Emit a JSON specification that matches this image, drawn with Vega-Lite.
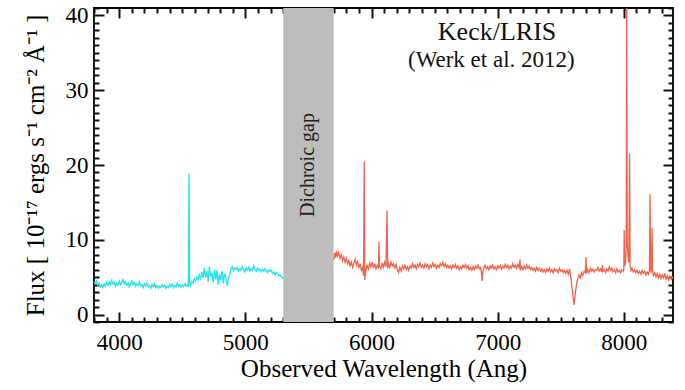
{
  "$schema": "https://vega.github.io/schema/vega-lite/v6.json",
  "width": 579,
  "height": 314,
  "autosize": {"type": "none"},
  "padding": {"left": 94, "top": 8, "right": 12, "bottom": 68},
  "background": "white",
  "config": {
    "view": {"stroke": "black", "strokeWidth": 1.8},
    "font": "Liberation Serif"
  },
  "datasets": {
    "gap": [{"a": 5300, "b": 5700, "lbl": "Dichroic gap", "ty": 20}],
    "notes": [
      {"x": 6995, "y": 37.8, "t": "Keck/LRIS", "k": "main"},
      {"x": 6950, "y": 34.0, "t": "(Werk et al. 2012)", "k": "ref"}
    ],
    "blue": [
      {"w":3800,"f":4.4},{"w":3810,"f":4.1},{"w":3820,"f":4.5},{"w":3830,"f":3.9},{"w":3840,"f":4.2},{"w":3850,"f":3.7},{"w":3860,"f":4.0},{"w":3870,"f":3.6},{"w":3880,"f":4.1},{"w":3890,"f":3.8},
      {"w":3900,"f":4.3},{"w":3910,"f":3.9},{"w":3920,"f":4.4},{"w":3930,"f":4.0},{"w":3940,"f":4.6},{"w":3950,"f":4.1},{"w":3960,"f":4.3},{"w":3970,"f":3.8},{"w":3980,"f":4.2},{"w":3990,"f":3.9},
      {"w":4000,"f":4.5},{"w":4010,"f":4.0},{"w":4020,"f":4.3},{"w":4030,"f":4.7},{"w":4040,"f":4.1},{"w":4050,"f":4.4},{"w":4060,"f":3.9},{"w":4070,"f":4.2},{"w":4080,"f":3.7},{"w":4090,"f":4.1},
      {"w":4100,"f":4.5},{"w":4110,"f":4.0},{"w":4120,"f":4.3},{"w":4130,"f":3.8},{"w":4140,"f":4.1},{"w":4150,"f":3.9},{"w":4160,"f":4.4},{"w":4170,"f":3.8},{"w":4180,"f":4.0},{"w":4190,"f":3.6},
      {"w":4200,"f":4.1},{"w":4210,"f":3.8},{"w":4220,"f":4.2},{"w":4230,"f":3.7},{"w":4240,"f":3.9},{"w":4250,"f":3.5},{"w":4260,"f":4.0},{"w":4270,"f":3.7},{"w":4280,"f":4.1},{"w":4290,"f":3.6},
      {"w":4300,"f":3.9},{"w":4310,"f":3.5},{"w":4320,"f":3.8},{"w":4330,"f":3.6},{"w":4340,"f":4.0},{"w":4350,"f":3.7},{"w":4360,"f":3.9},{"w":4370,"f":3.5},{"w":4380,"f":3.8},{"w":4390,"f":3.6},
      {"w":4400,"f":4.0},{"w":4410,"f":3.7},{"w":4420,"f":4.1},{"w":4430,"f":3.6},{"w":4440,"f":3.9},{"w":4450,"f":3.7},{"w":4460,"f":4.2},{"w":4470,"f":3.8},{"w":4480,"f":4.0},{"w":4490,"f":3.6},
      {"w":4500,"f":3.9},{"w":4510,"f":3.7},{"w":4520,"f":4.1},{"w":4530,"f":3.8},{"w":4540,"f":4.0},{"w":4548,"f":3.7},{"w":4553,"f":18.9},{"w":4558,"f":4.2},{"w":4565,"f":3.9},{"w":4575,"f":4.4},
      {"w":4585,"f":4.2},{"w":4595,"f":4.8},{"w":4605,"f":4.5},{"w":4615,"f":5.0},{"w":4625,"f":4.6},{"w":4635,"f":5.3},{"w":4645,"f":4.8},{"w":4655,"f":5.7},{"w":4665,"f":4.9},{"w":4675,"f":6.2},
      {"w":4685,"f":5.0},{"w":4695,"f":5.8},{"w":4705,"f":4.4},{"w":4715,"f":6.4},{"w":4725,"f":5.1},{"w":4735,"f":5.6},{"w":4745,"f":4.3},{"w":4755,"f":6.0},{"w":4765,"f":4.7},{"w":4775,"f":5.9},
      {"w":4785,"f":4.0},{"w":4795,"f":5.4},{"w":4805,"f":4.6},{"w":4815,"f":5.8},{"w":4825,"f":4.2},{"w":4835,"f":5.5},{"w":4845,"f":4.9},{"w":4855,"f":3.9},{"w":4865,"f":4.8},{"w":4875,"f":5.2},
      {"w":4885,"f":6.1},{"w":4895,"f":6.4},{"w":4905,"f":5.9},{"w":4915,"f":6.2},{"w":4925,"f":6.0},{"w":4935,"f":6.3},{"w":4945,"f":5.8},{"w":4955,"f":6.1},{"w":4965,"f":5.9},{"w":4975,"f":6.4},
      {"w":4985,"f":6.0},{"w":4995,"f":5.7},{"w":5005,"f":6.2},{"w":5015,"f":5.9},{"w":5025,"f":6.3},{"w":5035,"f":5.8},{"w":5045,"f":6.1},{"w":5055,"f":5.9},{"w":5065,"f":6.5},{"w":5075,"f":6.0},
      {"w":5085,"f":5.8},{"w":5095,"f":6.2},{"w":5105,"f":5.9},{"w":5115,"f":6.1},{"w":5125,"f":5.7},{"w":5135,"f":6.0},{"w":5145,"f":5.8},{"w":5155,"f":6.1},{"w":5165,"f":5.9},{"w":5175,"f":5.6},
      {"w":5185,"f":6.0},{"w":5195,"f":5.8},{"w":5205,"f":5.9},{"w":5215,"f":5.5},{"w":5225,"f":5.7},{"w":5235,"f":5.3},{"w":5245,"f":5.6},{"w":5255,"f":5.4},{"w":5265,"f":5.2},{"w":5275,"f":5.3},
      {"w":5285,"f":5.0},{"w":5295,"f":4.9},{"w":5300,"f":5.0}
    ],
    "red": [
      {"w":5700,"f":7.3},{"w":5708,"f":8.2},{"w":5715,"f":7.6},{"w":5722,"f":8.5},{"w":5730,"f":7.8},{"w":5740,"f":8.3},{"w":5750,"f":7.5},{"w":5760,"f":8.0},{"w":5770,"f":7.2},{"w":5780,"f":7.7},
      {"w":5790,"f":7.0},{"w":5800,"f":7.5},{"w":5810,"f":6.8},{"w":5820,"f":7.2},{"w":5830,"f":6.5},{"w":5840,"f":7.0},{"w":5850,"f":6.3},{"w":5860,"f":6.9},{"w":5870,"f":7.4},{"w":5880,"f":6.6},
      {"w":5890,"f":7.1},{"w":5900,"f":6.2},{"w":5910,"f":6.8},{"w":5920,"f":5.9},{"w":5930,"f":6.3},{"w":5937,"f":5.2},{"w":5942,"f":20.5},{"w":5947,"f":4.6},{"w":5955,"f":5.8},{"w":5965,"f":6.6},
      {"w":5975,"f":6.1},{"w":5985,"f":6.9},{"w":5995,"f":6.4},{"w":6005,"f":7.0},{"w":6015,"f":6.2},{"w":6025,"f":6.8},{"w":6035,"f":6.0},{"w":6045,"f":6.6},{"w":6055,"f":6.3},{"w":6059,"f":9.7},
      {"w":6063,"f":6.5},{"w":6075,"f":6.1},{"w":6085,"f":6.9},{"w":6095,"f":6.3},{"w":6105,"f":7.0},{"w":6115,"f":6.4},{"w":6123,"f":13.9},{"w":6128,"f":6.2},{"w":6135,"f":6.8},{"w":6145,"f":6.3},
      {"w":6155,"f":7.0},{"w":6165,"f":6.5},{"w":6175,"f":6.8},{"w":6185,"f":6.2},{"w":6195,"f":6.7},{"w":6205,"f":6.0},{"w":6215,"f":5.6},{"w":6225,"f":6.3},{"w":6235,"f":5.8},{"w":6245,"f":6.5},
      {"w":6255,"f":6.1},{"w":6265,"f":6.6},{"w":6275,"f":6.0},{"w":6285,"f":6.4},{"w":6295,"f":5.9},{"w":6305,"f":6.5},{"w":6315,"f":6.2},{"w":6325,"f":6.8},{"w":6335,"f":6.3},{"w":6345,"f":6.6},
      {"w":6355,"f":6.1},{"w":6365,"f":6.7},{"w":6375,"f":6.4},{"w":6385,"f":6.9},{"w":6395,"f":6.3},{"w":6405,"f":6.6},{"w":6415,"f":6.2},{"w":6425,"f":6.8},{"w":6435,"f":6.4},{"w":6445,"f":6.7},
      {"w":6455,"f":6.1},{"w":6465,"f":6.6},{"w":6475,"f":6.3},{"w":6485,"f":6.9},{"w":6495,"f":6.4},{"w":6505,"f":6.7},{"w":6515,"f":6.2},{"w":6525,"f":6.6},{"w":6535,"f":6.3},{"w":6545,"f":6.8},
      {"w":6555,"f":6.5},{"w":6565,"f":7.0},{"w":6575,"f":6.4},{"w":6585,"f":6.8},{"w":6595,"f":6.3},{"w":6605,"f":6.6},{"w":6615,"f":6.2},{"w":6625,"f":6.5},{"w":6635,"f":6.1},{"w":6645,"f":6.6},
      {"w":6655,"f":6.3},{"w":6665,"f":6.7},{"w":6675,"f":6.2},{"w":6685,"f":6.5},{"w":6695,"f":6.0},{"w":6705,"f":6.4},{"w":6715,"f":6.1},{"w":6725,"f":6.6},{"w":6735,"f":6.3},{"w":6745,"f":6.7},
      {"w":6755,"f":6.2},{"w":6765,"f":6.5},{"w":6775,"f":6.0},{"w":6785,"f":6.3},{"w":6795,"f":5.9},{"w":6805,"f":6.4},{"w":6815,"f":6.0},{"w":6825,"f":6.5},{"w":6835,"f":6.2},{"w":6845,"f":6.6},
      {"w":6855,"f":6.1},{"w":6865,"f":6.3},{"w":6872,"f":5.5},{"w":6877,"f":4.5},{"w":6882,"f":5.7},{"w":6890,"f":6.2},{"w":6900,"f":6.6},{"w":6910,"f":6.1},{"w":6920,"f":6.4},{"w":6930,"f":6.0},
      {"w":6940,"f":6.5},{"w":6950,"f":6.2},{"w":6960,"f":6.6},{"w":6970,"f":6.1},{"w":6980,"f":6.4},{"w":6990,"f":6.0},{"w":7000,"f":6.5},{"w":7010,"f":6.2},{"w":7020,"f":6.6},{"w":7030,"f":6.1},
      {"w":7040,"f":6.5},{"w":7050,"f":6.2},{"w":7060,"f":6.7},{"w":7070,"f":6.3},{"w":7080,"f":6.6},{"w":7090,"f":6.1},{"w":7100,"f":6.5},{"w":7110,"f":6.2},{"w":7120,"f":6.8},{"w":7130,"f":6.3},
      {"w":7140,"f":6.6},{"w":7150,"f":6.2},{"w":7160,"f":6.7},{"w":7170,"f":6.3},{"w":7177,"f":7.4},{"w":7182,"f":5.9},{"w":7190,"f":6.4},{"w":7200,"f":6.0},{"w":7210,"f":6.5},{"w":7220,"f":6.1},
      {"w":7230,"f":6.6},{"w":7240,"f":6.2},{"w":7250,"f":6.5},{"w":7260,"f":6.0},{"w":7270,"f":6.3},{"w":7280,"f":5.9},{"w":7290,"f":6.2},{"w":7300,"f":5.8},{"w":7310,"f":6.3},{"w":7320,"f":5.9},
      {"w":7330,"f":6.2},{"w":7340,"f":5.8},{"w":7350,"f":6.1},{"w":7360,"f":5.7},{"w":7370,"f":6.0},{"w":7380,"f":5.6},{"w":7390,"f":6.1},{"w":7400,"f":5.8},{"w":7410,"f":6.2},{"w":7420,"f":5.7},
      {"w":7430,"f":6.0},{"w":7440,"f":5.6},{"w":7450,"f":6.1},{"w":7460,"f":5.8},{"w":7470,"f":6.0},{"w":7480,"f":5.6},{"w":7490,"f":6.2},{"w":7500,"f":5.8},{"w":7510,"f":6.0},{"w":7520,"f":5.6},
      {"w":7530,"f":5.9},{"w":7540,"f":5.5},{"w":7550,"f":5.9},{"w":7560,"f":5.4},{"w":7570,"f":6.1},{"w":7580,"f":5.0},{"w":7590,"f":3.5},{"w":7600,"f":2.2},{"w":7605,"f":1.3},{"w":7610,"f":2.0},
      {"w":7618,"f":3.2},{"w":7625,"f":4.0},{"w":7635,"f":4.8},{"w":7645,"f":5.3},{"w":7655,"f":4.9},{"w":7665,"f":5.6},{"w":7675,"f":5.2},{"w":7685,"f":5.8},{"w":7695,"f":5.6},{"w":7700,"f":7.7},
      {"w":7705,"f":5.5},{"w":7715,"f":6.0},{"w":7725,"f":5.6},{"w":7735,"f":6.2},{"w":7745,"f":5.8},{"w":7755,"f":6.1},{"w":7765,"f":5.7},{"w":7775,"f":6.0},{"w":7785,"f":5.9},{"w":7795,"f":6.3},
      {"w":7805,"f":5.8},{"w":7815,"f":6.1},{"w":7825,"f":5.7},{"w":7830,"f":6.6},{"w":7835,"f":5.8},{"w":7845,"f":6.0},{"w":7855,"f":5.6},{"w":7865,"f":6.1},{"w":7875,"f":5.8},{"w":7885,"f":6.4},
      {"w":7895,"f":5.9},{"w":7905,"f":6.2},{"w":7915,"f":5.7},{"w":7925,"f":6.0},{"w":7935,"f":5.6},{"w":7945,"f":6.1},{"w":7955,"f":5.7},{"w":7965,"f":5.9},{"w":7975,"f":5.6},{"w":7985,"f":6.0},
      {"w":7995,"f":5.8},{"w":8000,"f":6.0},{"w":8003,"f":11.3},{"w":8007,"f":6.5},{"w":8014,"f":7.0},{"w":8019,"f":9.0},{"w":8023,"f":42},{"w":8027,"f":10.0},{"w":8034,"f":7.5},{"w":8040,"f":7.0},
      {"w":8046,"f":21.5},{"w":8050,"f":6.5},{"w":8057,"f":5.9},{"w":8065,"f":6.2},{"w":8075,"f":5.7},{"w":8085,"f":6.0},{"w":8095,"f":5.6},{"w":8105,"f":5.9},{"w":8115,"f":5.5},{"w":8125,"f":5.8},
      {"w":8135,"f":5.4},{"w":8145,"f":5.9},{"w":8155,"f":5.5},{"w":8165,"f":5.8},{"w":8175,"f":5.3},{"w":8185,"f":5.7},{"w":8195,"f":5.4},{"w":8203,"f":5.8},{"w":8208,"f":16.1},{"w":8212,"f":6.0},
      {"w":8218,"f":5.6},{"w":8224,"f":11.6},{"w":8228,"f":5.8},{"w":8235,"f":5.2},{"w":8245,"f":5.6},{"w":8255,"f":5.0},{"w":8265,"f":5.5},{"w":8275,"f":4.9},{"w":8285,"f":5.4},{"w":8295,"f":4.8},
      {"w":8305,"f":5.3},{"w":8315,"f":4.9},{"w":8325,"f":5.5},{"w":8335,"f":4.7},{"w":8345,"f":5.2},{"w":8355,"f":4.6},{"w":8365,"f":5.1},{"w":8375,"f":4.7},{"w":8385,"f":5.0},{"w":8390,"f":4.8}
    ]
  },
  "resolve": {"axis": {"x": "independent", "y": "independent"}},
  "layer": [
    {
      "data": {"name": "gap"},
      "mark": {"type": "rect", "color": "#bdbdbd"},
      "encoding": {
        "x": {"field": "a", "type": "quantitative",
          "scale": {"domain": [3800, 8390], "nice": false, "zero": false},
          "axis": {"orient": "bottom", "values": [4000, 5000, 6000, 7000, 8000], "offset": -10, "ticks": true, "tickSize": 10, "tickColor": "#111111", "tickWidth": 2,
            "domain": false, "grid": false, "labelFont": "Liberation Serif", "labelFontSize": 23, "labelColor": "black", "labelPadding": 9,
            "format": "d", "title": "Observed Wavelength (Ang)", "titleFont": "Liberation Serif", "titleFontSize": 25, "titleFontWeight": "normal", "titleColor": "black", "titlePadding": 2}},
        "x2": {"field": "b"}
      }
    },
    {
      "data": {"name": "blue"},
      "mark": {"type": "line", "color": "#22e2ee", "strokeWidth": 1.3, "clip": true},
      "encoding": {
        "x": {"field": "w", "type": "quantitative",
          "scale": {"domain": [3800, 8390], "nice": false, "zero": false},
          "axis": {"orient": "bottom", "offset": -5, "values": [3800,3900,4100,4200,4300,4400,4500,4600,4700,4800,4900,5100,5200,5300,5400,5500,5600,5700,5800,5900,6100,6200,6300,6400,6500,6600,6700,6800,6900,7100,7200,7300,7400,7500,7600,7700,7800,7900,8100,8200,8300],
            "ticks": true, "tickSize": 5, "tickColor": "#111111", "tickWidth": 2, "domain": false, "grid": false, "labels": false, "title": null}},
        "y": {"field": "f", "type": "quantitative",
          "scale": {"domain": [-1, 41], "nice": false, "zero": false},
          "axis": {"orient": "left", "values": [0, 10, 20, 30, 40], "offset": -10, "ticks": true, "tickSize": 10, "tickColor": "#111111", "tickWidth": 2,
            "domain": false, "grid": false, "labelFont": "Liberation Serif", "labelFontSize": 23, "labelColor": "black", "labelPadding": 6,
            "title": "Flux [ 10⁻¹⁷ ergs s⁻¹ cm⁻² Å⁻¹ ]", "titleFont": "Liberation Serif", "titleFontSize": 25, "titleFontWeight": "normal", "titleColor": "black", "titlePadding": 17}}
      }
    },
    {
      "data": {"name": "red"},
      "mark": {"type": "line", "color": "#f26449", "strokeWidth": 1.3, "clip": true},
      "encoding": {
        "x": {"field": "w", "type": "quantitative",
          "scale": {"domain": [3800, 8390], "nice": false, "zero": false},
          "axis": {"orient": "top", "offset": -10, "values": [4000, 5000, 6000, 7000, 8000], "ticks": true, "tickSize": 10, "tickColor": "#111111", "tickWidth": 2, "domain": false, "grid": false, "labels": false, "title": null}},
        "y": {"field": "f", "type": "quantitative",
          "scale": {"domain": [-1, 41], "nice": false, "zero": false},
          "axis": {"orient": "left", "offset": -5, "values": [-1,1,2,3,4,5,6,7,8,9,11,12,13,14,15,16,17,18,19,21,22,23,24,25,26,27,28,29,31,32,33,34,35,36,37,38,39,41],
            "ticks": true, "tickSize": 5, "tickColor": "#111111", "tickWidth": 2, "domain": false, "grid": false, "labels": false, "title": null}}
      }
    },
    {
      "data": {"name": "gap"},
      "mark": {"type": "text", "angle": 270, "font": "Liberation Serif", "fontSize": 20, "color": "#222222", "align": "center", "baseline": "middle"},
      "encoding": {
        "x": {"datum": 5500, "type": "quantitative",
          "scale": {"domain": [3800, 8390], "nice": false, "zero": false},
          "axis": {"orient": "top", "offset": -5, "values": [3800,3900,4100,4200,4300,4400,4500,4600,4700,4800,4900,5100,5200,5300,5400,5500,5600,5700,5800,5900,6100,6200,6300,6400,6500,6600,6700,6800,6900,7100,7200,7300,7400,7500,7600,7700,7800,7900,8100,8200,8300],
            "ticks": true, "tickSize": 5, "tickColor": "#111111", "tickWidth": 2, "domain": false, "grid": false, "labels": false, "title": null}},
        "y": {"field": "ty", "type": "quantitative",
          "scale": {"domain": [-1, 41], "nice": false, "zero": false},
          "axis": {"orient": "right", "offset": -10, "values": [0, 10, 20, 30, 40], "ticks": true, "tickSize": 10, "tickColor": "#111111", "tickWidth": 2, "domain": false, "grid": false, "labels": false, "title": null}},
        "text": {"field": "lbl"}
      }
    },
    {
      "data": {"name": "notes"},
      "transform": [{"filter": "datum.k === 'main'"}],
      "mark": {"type": "text", "font": "Liberation Serif", "fontSize": 26, "color": "#111111", "align": "center", "baseline": "middle"},
      "encoding": {
        "x": {"field": "x", "type": "quantitative", "scale": {"domain": [3800, 8390], "nice": false, "zero": false}, "axis": null},
        "y": {"field": "y", "type": "quantitative",
          "scale": {"domain": [-1, 41], "nice": false, "zero": false},
          "axis": {"orient": "right", "offset": -5, "values": [-1,1,2,3,4,5,6,7,8,9,11,12,13,14,15,16,17,18,19,21,22,23,24,25,26,27,28,29,31,32,33,34,35,36,37,38,39,41],
            "ticks": true, "tickSize": 5, "tickColor": "#111111", "tickWidth": 2, "domain": false, "grid": false, "labels": false, "title": null}},
        "text": {"field": "t"}
      }
    },
    {
      "data": {"name": "notes"},
      "transform": [{"filter": "datum.k === 'ref'"}],
      "mark": {"type": "text", "font": "Liberation Serif", "fontSize": 23, "color": "#111111", "align": "center", "baseline": "middle"},
      "encoding": {
        "x": {"field": "x", "type": "quantitative", "scale": {"domain": [3800, 8390], "nice": false, "zero": false}, "axis": null},
        "y": {"field": "y", "type": "quantitative", "scale": {"domain": [-1, 41], "nice": false, "zero": false}, "axis": null},
        "text": {"field": "t"}
      }
    }
  ]
}
